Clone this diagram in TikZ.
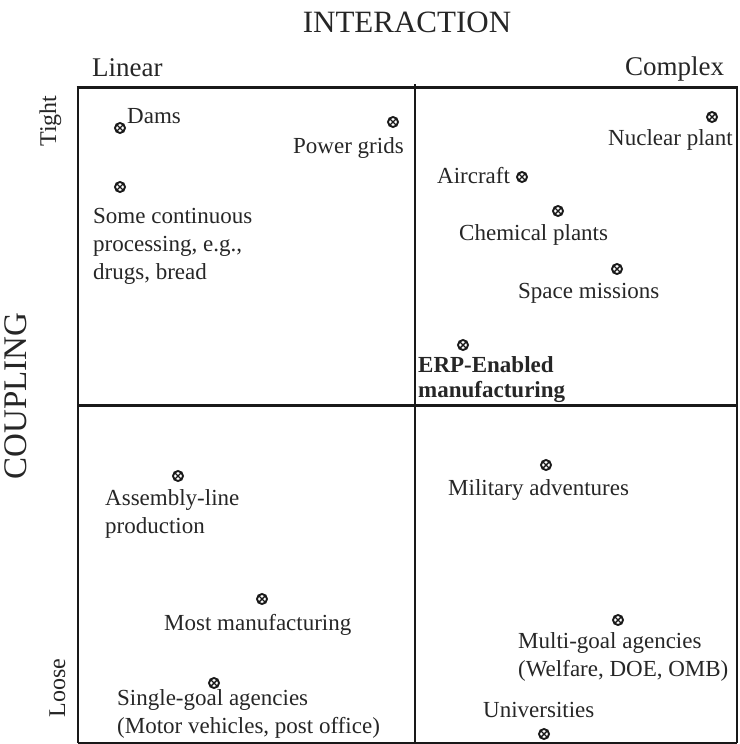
\documentclass[tikz,border=0pt]{standalone}
\usepackage{fontspec}
\setmainfont{Liberation Serif}
% stacked lines whose baseline is that of the first line
\newcommand{\mlines}[1]{\begin{tabular}[t]{@{}l@{}}#1\end{tabular}}
\begin{document}
\begin{tikzpicture}[x=1pt,y=-1pt,
  frame/.style={line width=2pt, black!90},
  heavy/.style={line width=3pt, black!90},
  otimes/.style={circle, draw=black!90, line width=1.9pt, minimum size=10pt, inner sep=0pt,
    path picture={\draw[line width=1.4pt, black!90]
      (path picture bounding box.north west) -- (path picture bounding box.south east)
      (path picture bounding box.north east) -- (path picture bounding box.south west);}},
  lbl/.style={anchor=base west, inner sep=0pt, text=black!85,
    font=\fontsize{23}{28}\selectfont},
  axis/.style={anchor=base, inner sep=0pt, text=black!85, font=\fontsize{31}{34}\selectfont},
  side/.style={anchor=base, inner sep=0pt, text=black!85, font=\fontsize{27}{30}\selectfont},
  edge/.style={anchor=base, inner sep=0pt, text=black!85, rotate=90, font=\fontsize{24}{28}\selectfont}]
\useasboundingbox (0,0) rectangle (739,744);

% axis titles
\node[axis] (interaction) at (407,32) {INTERACTION};
\node[axis, rotate=90, font=\fontsize{33}{36}\selectfont] (coupling) at (27,396) {COUPLING};
\node[side, anchor=base west] (linear) at (92,76) {Linear};
\node[side, anchor=base west] (complex) at (625,75) {Complex};
\node[edge] (tight) at (56,121) {Tight};
\node[edge] (loose) at (65,688) {Loose};

% quadrant frame
\draw[frame] (78,87) -- (78,743);
\draw[frame] (737,87) -- (737,743);
\draw[frame] (78,742.5) -- (737,742.5);
\draw[heavy] (76.5,87) -- (738,87);
\draw[heavy] (78,405) -- (737,405);
\draw[frame] (415,84) -- (415,743);

% tight / linear
\node[otimes] (m-dams) at (120,128) {};
\node[lbl] (t-dams) at (127,123) {Dams};
\node[otimes] (m-grid) at (393,122) {};
\node[lbl] (t-grid) at (293,153) {Power grids};
\node[otimes] (m-cont) at (120,187) {};
\node[lbl] (t-cont) at (93,223) {\mlines{Some continuous\\processing, e.g.,\\drugs, bread}};

% tight / complex
\node[otimes] (m-nuc) at (712,117) {};
\node[lbl] (t-nuc) at (608,145) {Nuclear plant};
\node[otimes] (m-air) at (522,177) {};
\node[lbl] (t-air) at (437,183) {Aircraft};
\node[otimes] (m-chem) at (558,211) {};
\node[lbl] (t-chem) at (459,240) {Chemical plants};
\node[otimes] (m-space) at (617,269) {};
\node[lbl] (t-space) at (518,298) {Space missions};
\node[otimes] (m-erp) at (463,345) {};
\node[lbl, font=\bfseries\fontsize{23}{25}\selectfont] (t-erp) at (418,372) {\mlines{ERP-Enabled\\manufacturing}};

% loose / linear
\node[otimes] (m-asm) at (178,476) {};
\node[lbl] (t-asm) at (105,505) {\mlines{Assembly-line\\production}};
\node[otimes] (m-most) at (262,599) {};
\node[lbl] (t-most) at (164,630) {Most manufacturing};
\node[otimes] (m-single) at (214,683) {};
\node[lbl] (t-single) at (117,705) {\mlines{Single-goal agencies\\(Motor vehicles, post office)}};

% loose / complex
\node[otimes] (m-mil) at (546,465) {};
\node[lbl] (t-mil) at (448,495) {Military adventures};
\node[otimes] (m-multi) at (618,620) {};
\node[lbl] (t-multi) at (518,648) {\mlines{Multi-goal agencies\\(Welfare, DOE, OMB)}};
\node[otimes] (m-uni) at (544,734) {};
\node[lbl] (t-uni) at (483,717) {Universities};
\end{tikzpicture}
\end{document}
